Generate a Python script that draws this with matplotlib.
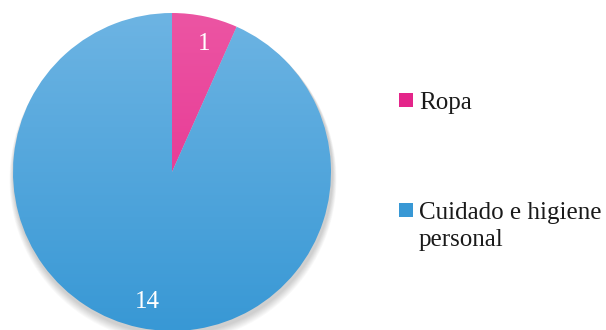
import numpy as np
import matplotlib.pyplot as plt
from matplotlib.patches import Rectangle, Circle
from matplotlib.colors import LinearSegmentedColormap

labels = ['Ropa', 'Cuidado e higiene\npersonal']
values = [1, 14]
top_colors = ['#ec55a3', '#6db4e3']
bottom_colors = ['#e4258a', '#3898d5']

fig = plt.figure(figsize=(6.06, 3.3), dpi=100)
ax = fig.add_axes([0, 0, 1, 1])

cx, cy, r = 172, 158, 159

# soft shadow under the pie
for k in range(8):
    ax.add_patch(Circle((cx + 1, cy - 3 - k * 0.6), r + 1 + k * 0.5,
                        color='black', alpha=0.025, lw=0, zorder=0))

wedges, texts = ax.pie(values, startangle=90, counterclock=False,
                       center=(cx, cy), radius=r,
                       labels=[str(v) for v in values], labeldistance=0.82,
                       wedgeprops=dict(lw=0))

# vertical gradient fill clipped to each wedge
grad = np.linspace(0, 1, 256).reshape(-1, 1)
for w, c0, c1 in zip(wedges, top_colors, bottom_colors):
    w.set_facecolor('none')
    cmap = LinearSegmentedColormap.from_list('g', [c0, c1])
    im = ax.imshow(grad, cmap=cmap, aspect='auto', origin='upper',
                   extent=(cx - r, cx + r, cy - r, cy + r), zorder=1)
    im.set_clip_path(w)

for t in texts:
    t.set_color('white')
    t.set_fontsize(18)
    t.set_family('Liberation Serif')
    t.set_zorder(3)
    t.set_ha('center')
    t.set_va('center')
texts[0].set_position((204, 330 - 44))
texts[1].set_position((147, 330 - 302))

# legend
leg_y = [330 - 100, 330 - 210]
for lab, col, y in zip(labels, bottom_colors, leg_y):
    ax.add_patch(Rectangle((399, y - 7), 14, 14, color=col, lw=0))
    ax.text(419, y + 8, lab, ha='left', va='top', fontsize=18,
            family='Liberation Serif', color='#1a1a1a', linespacing=1.3)

ax.set_xlim(0, 606)
ax.set_ylim(0, 330)
ax.set_aspect('auto')
ax.axis('off')

fig.savefig('out.png', dpi=100)
